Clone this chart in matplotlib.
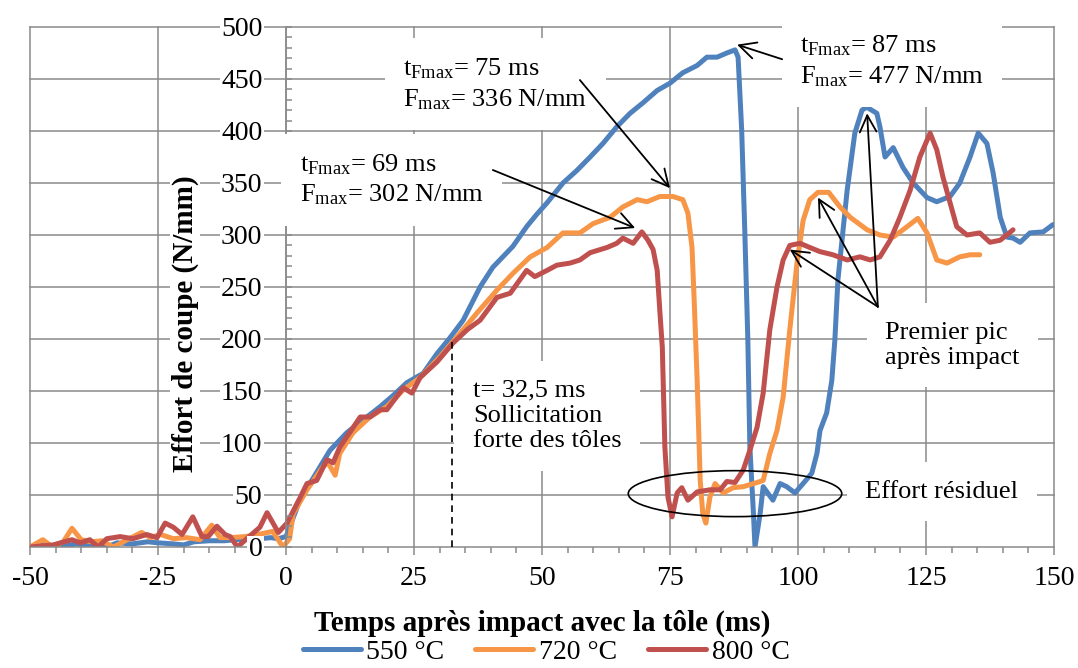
import numpy as np
import matplotlib
matplotlib.use('Agg')
import matplotlib.pyplot as plt
from matplotlib.patches import Ellipse
from matplotlib.ticker import MultipleLocator

plt.rcParams['font.family'] = ['Liberation Serif', 'DejaVu Serif']
plt.rcParams['mathtext.fontset'] = 'custom'
plt.rcParams['mathtext.rm'] = 'Liberation Serif'
plt.rcParams['mathtext.it'] = 'Liberation Serif:italic'
plt.rcParams['mathtext.bf'] = 'Liberation Serif:bold'
plt.rcParams['axes.unicode_minus'] = False

#------------------------------- data -------------------------------

t_550 = [-50, -47, -44, -41, -38, -35, -33, -30, -27, -25, -22, -20, -18, -15, -12, -10, -7, -5, -3, -1.5,
         0, 1.4, 2.7, 5.4, 8.6, 11.9, 15, 18.4, 21, 23.6, 26.8, 29.5, 32, 34.6, 37.9, 40.4, 44.3, 47, 49,
         51, 54.1, 56.8, 59.4, 61.9, 64.6, 67.2, 69.7, 72.5, 75, 77.5, 80.3, 82.2, 84.2, 86.1, 87.7, 88.3,
         89, 89.6, 90.2, 90.6, 91.3, 91.6, 92.6, 93.2, 95.1, 96.5, 97.8, 99.4, 101, 102.7, 103.7, 104.3,
         105.6, 106.6, 107.2, 107.8, 109.6, 111.1, 112.5, 113.4, 115.4, 116, 117, 118.6, 120.5, 122.5,
         125.2, 127.1, 129.7, 131.6, 133.6, 135.2, 136.9, 138.1, 139.5, 140.8, 142, 143.4, 145.3, 147.9, 149.8]
f_550 = [0, 2, 0, 3, 1, 0, 4, 3, 5, 4, 3, 2, 5, 6, 6, 7, 8, 8, 9, 8,
         10, 28, 45, 67, 93, 110, 122, 135, 146, 158, 167, 186, 201, 218, 250, 269, 289, 308, 320,
         331, 350, 362, 375, 388, 404, 417, 427, 439, 446, 456, 463, 471, 471, 475, 478, 471,
         401, 305, 200, 96, 32, 0, 32, 58, 45, 61, 58, 52, 61, 71, 90, 112,
         129, 160, 199, 257, 343, 398, 420, 423, 417, 404, 375, 384, 365, 350,
         336, 332, 337, 350, 375, 398, 388, 360, 317, 298, 297, 293, 302, 303, 310]

t_720 = [-50, -47.5, -45.6, -43.5, -41.8, -40, -38, -36, -33.7, -31, -28.2, -26.5, -24.5, -22, -19.4, -16.8,
         -14.5, -12.9, -11, -8, -4.5, -2.6, -0.6, 0.7, 1.4, 4.1, 7.2, 8.2, 9.6, 10.5, 13.1, 16.4, 19.7,
         22.9, 26.2, 30.1, 33.4, 37.3, 41.2, 44.3, 47.7, 51, 54.1, 57.4, 60, 63.3, 65.8, 68.6, 70.5, 73,
         75.6, 77.5, 78.5, 79.3, 79.7, 80.3, 80.9, 81.4, 82, 82.8, 83.8, 85.4, 87.3, 89.3, 92, 93.2, 94.5,
         95.9, 97.1, 98.4, 99.8, 101, 102.3, 103.9, 106, 108.2, 110.2, 113.5, 116, 118.6, 121.3, 123.4,
         125.2, 127.1, 129.1, 131.6, 133.6, 135.5]
f_720 = [0, 7, 0, 5, 18, 7, 5, 6, 0, 7, 14, 9, 12, 8, 9, 7,
         21, 9, 9, 10, 13, 15, 0, 8, 32, 55, 77, 81, 69, 90, 110, 125, 135,
         151, 163, 183, 202, 225, 247, 263, 279, 288, 302, 302, 311, 317, 327, 334, 332, 337,
         337, 334, 321, 288, 240, 161, 64, 32, 23, 48, 61, 52, 57, 58, 62, 64, 90,
         112, 144, 209, 273, 314, 334, 341, 341, 327, 317, 305, 300, 298, 308, 316,
         302, 276, 273, 279, 281, 281]

t_800 = [-50, -45.5, -41.8, -40.2, -38.3, -36.7, -35, -32.4, -29.9, -27.2, -25.2, -23.6, -22, -20.3, -18.2,
         -16.4, -15.2, -13.5, -11.9, -10.9, -9.5, -5.1, -3.7, -1.5, 0.2, 2.7, 4.1, 6, 8, 9.2, 10.5, 14.5,
         16.4, 18.4, 19.7, 22.9, 24.6, 26.2, 29.5, 32.6, 35.4, 37.9, 41.2, 43.8, 47, 48.6, 51, 52.9, 55.5,
         57.4, 59.4, 62.7, 64.6, 65.8, 67.8, 69.5, 70.7, 71.7, 72.5, 73, 73.5, 74, 74.6, 75.4, 76.4, 77.3,
         78.5, 80.3, 82.8, 84.8, 86.1, 87.7, 89.3, 90.6, 92, 93.2, 94.5, 95.9, 97.1, 98.4, 100.4, 102.3,
         104.3, 106.8, 109.6, 112.1, 114.1, 116, 118, 119.9, 121.9, 123.8, 125.8, 127.1, 128.3, 129.7,
         131, 133, 135.5, 137.5, 139.5, 142]
f_800 = [0, 2, 7, 4, 7, 0, 8, 10, 8, 12, 9, 23, 19, 12, 29,
         10, 10, 20, 12, 10, 0, 19, 33, 14, 23, 47, 61, 64, 84, 81, 96, 125,
         125, 132, 132, 153, 148, 163, 178, 196, 209, 218, 240, 244, 266, 260, 266, 271, 273,
         276, 283, 288, 292, 297, 292, 303, 295, 286, 266, 228, 192, 96, 48, 29, 52, 57,
         45, 53, 55, 55, 63, 62, 74, 93, 115, 148, 209, 250, 276, 290, 292, 288,
         284, 281, 276, 279, 276, 279, 295, 317, 343, 375, 398, 382, 356, 331,
         308, 300, 302, 293, 295, 305]

labels = ['550 °C', '720 °C', '800 °C']
colors = ['#4F81BD', '#F79646', '#C0504D']

#------------------------------------ figure -------------------------------------------

fig = plt.figure(figsize=(10.78, 6.68), dpi=100)
ax = fig.add_axes([30/1078, 121/668, 1024/1078, 520/668])
ax.set_xlim(-50, 150)
ax.set_ylim(0, 500)

grid_c = '#8a8a8a'
for y in range(50, 501, 50):
    ax.axhline(y, color=grid_c, lw=1.1, zorder=1, clip_on=False)
for x in range(-50, 151, 25):
    ax.axvline(x, color=grid_c, lw=1.1, zorder=1, clip_on=False)

for t, f, lab, c in zip([t_550, t_720, t_800], [f_550, f_720, f_800], labels, colors):
    ax.plot(t, f, color=c, lw=3.6, label=lab, zorder=2, solid_joinstyle='round', solid_capstyle='round')

# axes look (excel style)
for s in ['top', 'right']:
    ax.spines[s].set_visible(False)
ax.spines['left'].set_position(('data', 0))
ax.spines['left'].set_color(grid_c)
ax.spines['bottom'].set_color(grid_c)
ax.spines['left'].set_linewidth(1.1)
ax.spines['bottom'].set_linewidth(1.1)

ax.set_xticks(np.arange(-50, 151, 25))
ax.set_yticks(np.arange(0, 501, 50))
ax.xaxis.set_minor_locator(MultipleLocator(5))
ax.yaxis.set_minor_locator(MultipleLocator(10))
ax.tick_params(axis='x', which='major', direction='out', length=6, width=1.1, color=grid_c, labelsize=20, pad=8)
ax.tick_params(axis='x', which='minor', direction='out', length=4, width=1.1, color=grid_c)
ax.tick_params(axis='y', which='both', direction='in', length=4, width=1.1, color=grid_c, labelsize=20, pad=17)
for lab in ax.get_yticklabels():
    lab.set_bbox(dict(facecolor='white', edgecolor='none', pad=1))
ax.xaxis.set_zorder(4)
ax.yaxis.set_zorder(4)

# axis titles
ax.text(-19.7, 215, 'Effort de coupe (N/mm)', rotation=90, ha='center', va='center', fontsize=21,
        fontweight='bold', bbox=dict(facecolor='white', edgecolor='none', pad=1), zorder=5)
fig.text(542/1078, (668-623)/668, 'Temps après impact avec la tôle (ms)', ha='center', va='center',
         fontsize=21, fontweight='bold')

#---------------------------------- annotations ----------------------------------------

box = dict(boxstyle='square,pad=0.7', facecolor='white', edgecolor='none')
arrow = dict(arrowstyle='->,head_length=0.6,head_width=0.3', color='black', lw=1.3, mutation_scale=20,
             shrinkA=0, shrinkB=0)

ax.text(22.9, 445, 't$_{\\mathrm{Fmax}}$= 75 ms\nF$_{\\mathrm{max}}$= 336 N/mm', fontsize=19,
        ha='left', va='center', linespacing=1.3, bbox=box, zorder=5)
ax.text(2.7, 353, 't$_{\\mathrm{Fmax}}$= 69 ms\nF$_{\\mathrm{max}}$= 302 N/mm', fontsize=19,
        ha='left', va='center', linespacing=1.3, bbox=box, zorder=5)
ax.text(100.4, 467, 't$_{\\mathrm{Fmax}}$= 87 ms\nF$_{\\mathrm{max}}$= 477 N/mm', fontsize=19,
        ha='left', va='center', linespacing=1.3, bbox=box, zorder=5)
ax.text(117, 194, 'Premier pic\naprès impact', fontsize=19, ha='left', va='center',
        linespacing=1.2, bbox=box, zorder=5)
ax.text(36.5, 126, 't= 32,5 ms\nSollicitation\nforte des tôles', fontsize=19, ha='left', va='center',
        linespacing=1.2, bbox=box, zorder=5)
ax.text(113.1, 53, 'Effort résiduel', fontsize=19, ha='left', va='center', bbox=box, zorder=5)

ax.annotate('', xy=(75, 345), xytext=(57.4, 449), arrowprops=arrow, zorder=6)
ax.annotate('', xy=(68.2, 306.7), xytext=(40.4, 362.5), arrowprops=arrow, zorder=6)
ax.annotate('', xy=(88.1, 483), xytext=(96.9, 469), arrowprops=arrow, zorder=6)
for tip in [(98.4, 286), (103.9, 336), (113.5, 417)]:
    ax.annotate('', xy=tip, xytext=(115.6, 231), arrowprops=arrow, zorder=6)

ax.plot([32.5, 32.5], [0, 199], color='black', lw=1.2, linestyle=(0, (4, 3)), zorder=3)
ax.add_patch(Ellipse((87.7, 51.3), 41.7, 44.2, fill=False, edgecolor='black', lw=1.2, zorder=3))

fig.legend(loc='center', bbox_to_anchor=(546/1078, (668-652)/668), ncol=3, frameon=False, fontsize=20,
           handlelength=2.1, handletextpad=0.2, columnspacing=1.1, borderaxespad=0, borderpad=0)

fig.savefig('out.png', dpi=100)
